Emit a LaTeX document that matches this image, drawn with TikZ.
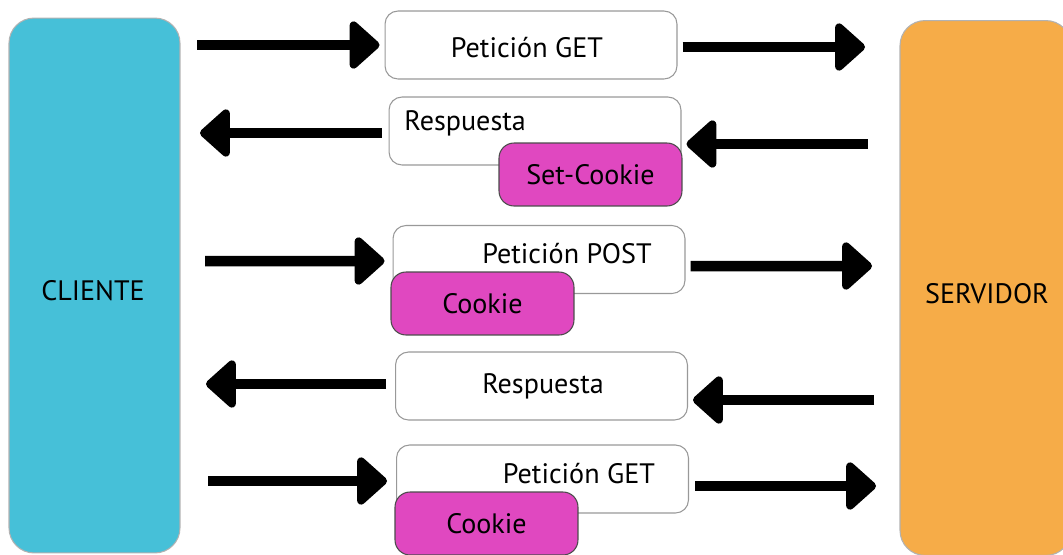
\documentclass[tikz,border=0pt]{standalone}
\usepackage{fontspec}
\setmainfont{PT Sans}
\usetikzlibrary{positioning,arrows.meta}
\definecolor{cliblue}{HTML}{46C0D8}
\definecolor{srvorange}{HTML}{F6AC48}
\definecolor{ckpink}{HTML}{E048C0}
\tikzset{
  ent/.style={rectangle, rounded corners=0.5cm, minimum width=3.42cm, minimum height=10.7cm, draw=gray!60, line width=0.6pt},
  msg/.style={rectangle, rounded corners=0.26cm, minimum width=5.84cm, minimum height=1.36cm, draw=gray!80, line width=0.6pt, fill=white},
  ck/.style={rectangle, rounded corners=0.3cm, minimum width=3.66cm, minimum height=1.26cm, draw=gray!60!black, line width=0.6pt, fill=ckpink, font=\fontsize{16}{19}\selectfont},
  lbl/.style={anchor=base, inner sep=0pt, font=\fontsize{16}{19}\selectfont},
  arr/.style={line width=0.21cm, -{Triangle[length=0.64cm,width=1.1cm,round]}},
  node distance=7mm
}
\begin{document}
\begin{tikzpicture}[x=0.02cm,y=-0.02cm]
	\useasboundingbox (0,0) rectangle (1063,555);
	% extremos
	\node[ent, fill=cliblue] (cli) at (94.5,285.5) {};
	\node[ent, fill=srvorange] (srv) at (985.5,288) {};
	\node[lbl] (clitxt) at (93,300) {CLIENTE};
	\node[lbl] (srvtxt) at (987,303) {SERVIDOR};
	% mensajes
	\node[msg] (g1) at (531,45) {};
	\node[lbl] (g1txt) at (527,57) {Petición GET};
	\node[msg] (r1) at (535,131) {};
	\node[lbl, anchor=base west] (r1txt) at (404,130) {Respuesta};
	\node[ck] (sc) at (590.5,174.5) {Set-Cookie};
	\node[msg] (p1) at (539,259.5) {};
	\node[lbl] (p1txt) at (567,263) {Petición POST};
	\node[ck] (c1) at (482.5,303.5) {Cookie};
	\node[msg] (r2) at (541.5,386) {};
	\node[lbl] (r2txt) at (543,393) {Respuesta};
	\node[msg] (g2) at (542.5,479) {};
	\node[lbl] (g2txt) at (579,483) {Petición GET};
	\node[ck] (c2) at (486.5,523.5) {Cookie};
	% flechas
	\draw[arr] (197,45) -- ([shift={(-5,0)}]g1.west);
	\draw[arr] ([shift={(5,2)}]g1.east) -- (865,47);
	\draw[arr] ([shift={(-7,2)}]r1.west) -- (200,133);
	\draw[arr] (868,144) -- ([shift={(5,13)}]r1.east);
	\draw[arr] (205,261) -- ([shift={(-8,1.5)}]p1.west);
	\draw[arr] ([shift={(5,6.5)}]p1.east) -- (872,266);
	\draw[arr] ([shift={(-9,-2)}]r2.west) -- (206,384);
	\draw[arr] (874,400) -- ([shift={(5,14)}]r2.east);
	\draw[arr] (208,481) -- ([shift={(-9,2)}]g2.west);
	\draw[arr] ([shift={(6,7)}]g2.east) -- (876,486);
\end{tikzpicture}
\end{document}
